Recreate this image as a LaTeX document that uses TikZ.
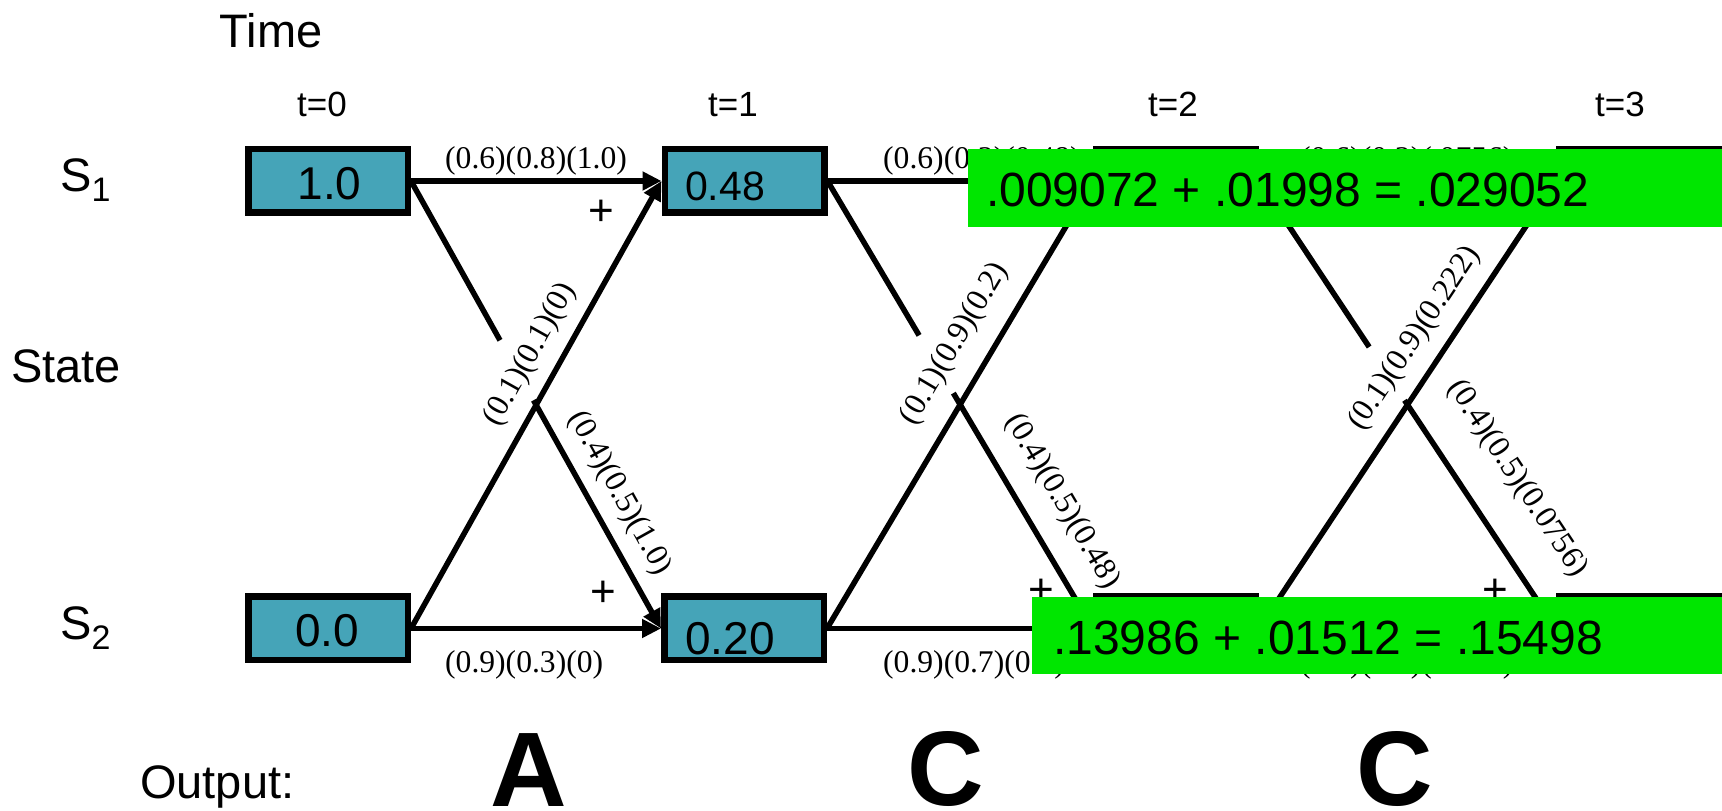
\documentclass[tikz,border=0pt]{standalone}
\usepackage{fontspec}
\setmainfont{Liberation Serif}
\setsansfont{Liberation Sans}
\usetikzlibrary{arrows.meta,calc}
\definecolor{cellteal}{RGB}{69,164,184}
\definecolor{sumgreen}{RGB}{0,230,0}
\begin{document}
\begin{tikzpicture}[x=1pt,y=1pt,
  cell/.style={draw=black, line width=6.5pt, fill=cellteal, minimum width=159.5pt, minimum height=63.5pt, inner sep=0pt},
  num/.style={font=\sffamily\fontsize{46}{50}\selectfont, inner sep=0pt},
  conn/.style={line width=5.5pt},
  arr/.style={conn, -{Triangle[length=19pt,width=18pt]}},
  lbl/.style={font=\rmfamily\fontsize{31.6}{36}\selectfont, inner sep=0pt},
  side/.style={font=\sffamily\fontsize{47}{52}\selectfont, inner sep=0pt},
  tlab/.style={font=\sffamily\fontsize{35}{40}\selectfont, inner sep=0pt, anchor=base},
  plus/.style={font=\sffamily\fontsize{44}{48}\selectfont, inner sep=0pt},
  outl/.style={font=\sffamily\bfseries\fontsize{106}{110}\selectfont, inner sep=0pt, anchor=base},
  gbox/.style={fill=sumgreen, inner sep=0pt, anchor=south west},
  gtext/.style={font=\sffamily\fontsize{48}{52}\selectfont, inner sep=0pt, anchor=base west}
]
\useasboundingbox (0,0) rectangle (1722,811);

% side labels
\node[side, anchor=base] (time) at (271,763) {Time};
\node[side, anchor=base west] (s1) at (60,619) {S\raisebox{-10pt}{\fontsize{34}{34}\selectfont 1}};
\node[side, anchor=base west] (state) at (11,428) {State};
\node[side, anchor=base west] (s2) at (60,171) {S\raisebox{-10pt}{\fontsize{34}{34}\selectfont 2}};
\node[side, anchor=base west] (outp) at (140,12) {Output:};

% time labels
\node[tlab] (t0) at (322,694) {t=0};
\node[tlab] (t1) at (733,694) {t=1};
\node[tlab] (t2) at (1173,694) {t=2};
\node[tlab] (t3) at (1620,694) {t=3};

% cells
\node[cell] (a0) at (328,630) {};
\node[cell] (a1) at (744.5,630) {};
\node[cell] (a2) at (1176,630) {};
\node[cell] (a3) at (1639,630) {};
\node[cell] (b0) at (328,182.5) {};
\node[cell] (b1) at (744,182.5) {};
\node[cell] (b2) at (1176,182.5) {};
\node[cell] (b3) at (1639,182.5) {};

\node[num] (a0t) at (329.5,627.5) {1.0};
\node[num, font=\sffamily\fontsize{41}{45}\selectfont] (a1t) at (725,624.5) {0.48};
\node[num] (b0t) at (327,180) {0.0};
\node[num] (b1t) at (730,172.5) {0.20};

% gap coordinates on the S1->S2 diagonals
\coordinate (g01) at ($(a0.east)!0.356!(b1.west)$);
\coordinate (c01) at ($(a0.east)!0.49!(b1.west)$);
\coordinate (g12) at ($(a1.east)!0.345!(b2.west)$);
\coordinate (c12) at ($(a1.east)!0.474!(b2.west)$);
\coordinate (g23) at ($(a2.east)!0.371!(b3.west)$);
\coordinate (c23) at ($(a2.east)!0.49!(b3.west)$);

% t=0 -> t=1
\draw[arr] (a0.east) -- (a1.west);
\draw[arr] (b0.east) -- (b1.west);
\draw[conn] (a0.east) -- (g01);
\draw[arr] (c01) -- (b1.west);
\draw[arr] (b0.east) -- (a1.west);
% t=1 -> t=2
\draw[arr] (a1.east) -- (a2.west);
\draw[arr] (b1.east) -- (b2.west);
\draw[conn] (a1.east) -- (g12);
\draw[arr] (c12) -- (b2.west);
\draw[arr] (b1.east) -- (a2.west);
% t=2 -> t=3
\draw[arr] (a2.east) -- (a3.west);
\draw[arr] (b2.east) -- (b3.west);
\draw[conn] (a2.east) -- (g23);
\draw[arr] (c23) -- (b3.west);
\draw[arr] (b2.east) -- (a3.west);

% horizontal labels
\node[lbl, anchor=base west] (h01t) at (445,642) {(0.6)(0.8)(1.0)};
\node[lbl, anchor=base west] (h01b) at (445,138) {(0.9)(0.3)(0)};
\node[lbl, anchor=base west] (h12t) at (883,642) {(0.6)(0.2)(0.48)};
\node[lbl, anchor=base west] (h12b) at (883,138) {(0.9)(0.7)(0.2)};
\node[lbl, anchor=base west] (h23t) at (1300,642) {(0.6)(0.2)(.0756)};
\node[lbl, anchor=base west] (h23b) at (1300,138) {(0.9)(0.7)(0.222)};

% diagonal labels
\path (b0.east) -- (a1.west) node[lbl, sloped, pos=0.58, above=15pt] (d01a) {(0.1)(0.1)(0)};
\path (a0.east) -- (b1.west) node[lbl, sloped, pos=0.73, above=15pt] (d01b) {(0.4)(0.5)(1.0)};
\path (b1.east) -- (a2.west) node[lbl, sloped, pos=0.595, above=21pt] (d12a) {(0.1)(0.9)(0.2)};
\path (a1.east) -- (b2.west) node[lbl, sloped, pos=0.76, above=24pt] (d12b) {(0.4)(0.5)(0.48)};
\path (b2.east) -- (a3.west) node[lbl, sloped, pos=0.61, above=16pt] (d23a) {(0.1)(0.9)(0.222)};
\path (a2.east) -- (b3.west) node[lbl, sloped, pos=0.727, above=36pt] (d23b) {(0.4)(0.5)(0.0756)};

% plus signs
\node[plus] (p01a) at (601,598) {+};
\node[plus] (p01b) at (603.5,217) {+};
\node[plus] (p12b) at (1041,219) {+};
\node[plus] (p23b) at (1495,219) {+};

% green sum boxes
\node[gbox, minimum width=770pt, minimum height=78pt] (gs1) at (968,584) {};
\node[gtext] (gs1t) at (986,604) {.009072 + .01998 = .029052};
\node[gbox, minimum width=700pt, minimum height=77pt] (gs2) at (1032,137) {};
\node[gtext] (gs2t) at (1053,156) {.13986 + .01512 = .15498};

% outputs
\node[outl] (oA) at (529,4) {A};
\node[outl] (oC1) at (946,5) {C};
\node[outl] (oC2) at (1395,5) {C};
\end{tikzpicture}
\end{document}
